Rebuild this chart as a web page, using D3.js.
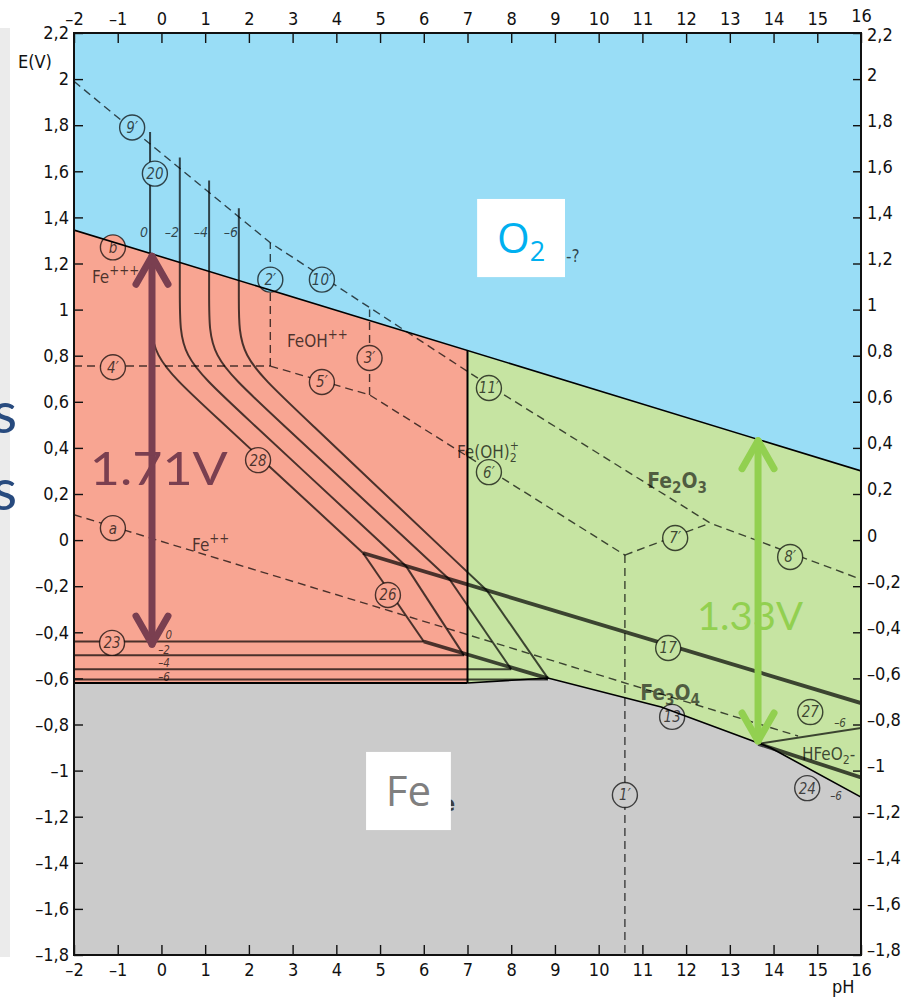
<!DOCTYPE html>
<html><head><meta charset="utf-8">
<script src="https://cdn.jsdelivr.net/npm/d3@7"></script>
<style>
body{margin:0;background:#fff}
svg{display:block}
.ax text{font-family:"DejaVu Sans Condensed","Liberation Sans Narrow","DejaVu Sans",sans-serif;font-stretch:condensed;font-size:18px;fill:#111}
.ax line{stroke:#111;stroke-width:1.4}
.scan{font-family:"DejaVu Sans Condensed","Liberation Sans Narrow","DejaVu Sans",sans-serif;font-stretch:condensed}
</style></head>
<body><svg id="c" width="903" height="997"></svg>
<script>
// ---------------- data ----------------
const phTicks = [-2,-1,0,1,2,3,4,5,6,7,8,9,10,11,12,13,14,15,16];
const eTicks = [-1.8,-1.6,-1.4,-1.2,-1,-0.8,-0.6,-0.4,-0.2,0,0.2,0.4,0.6,0.8,1,1.2,1.4,1.6,1.8,2,2.2];
const eTickLabels = ["–1,8","–1,6","–1,4","–1,2","–1","–0,8","–0,6","–0,4","–0,2","0","0,2","0,4","0,6","0,8","1","1,2","1,4","1,6","1,8","2","2,2"];

// coloured domains (pH, E)
const oxygenLine = [[-2,1.345],[16,0.30]];
const ionsRegion = [[-2,1.345],[7,0.82],[7,-0.62],[-2,-0.62]];
const oxideRegion = [[7,0.82],[16,0.30],[16,-1.115],[13.94,-0.902],[13.65,-0.88],[11.43,-0.724],[8.84,-0.598],[7,-0.62]];
const ironRegion = [[-2,-0.62],[7,-0.62],[8.84,-0.598],[11.43,-0.724],[13.65,-0.88],[13.94,-0.902],[16,-1.115],[16,-1.8],[-2,-1.8]];
const ironBoundary = [[7,-0.62],[8.84,-0.598],[11.43,-0.724],[13.65,-0.88],[13.94,-0.902],[16,-1.115]];

// scanned diagram: curved lines 20 -> 28 (log C = 0,-2,-4,-6)
const curves2028 = [
  [[-0.26,1.77],[-0.26,1.02],[-0.26,0.80],[0.90,0.595],[4.61,-0.056]],
  [[0.42,1.66],[0.42,1.02],[0.42,0.80],[1.58,0.594],[5.59,-0.112]],
  [[1.09,1.56],[1.09,1.02],[1.09,0.80],[2.25,0.594],[6.60,-0.173]],
  [[1.77,1.44],[1.77,1.02],[1.77,0.80],[2.93,0.592],[7.45,-0.22]]
];
const lines26 = [
  [[4.61,-0.056],[6.0,-0.44]],
  [[5.59,-0.112],[6.92,-0.50]],
  [[6.60,-0.173],[8.0,-0.56]],
  [[7.45,-0.22],[8.84,-0.60]]
];
const lines23 = [
  [[-2,-0.44],[6.0,-0.44]],
  [[-2,-0.50],[6.92,-0.50]],
  [[-2,-0.56],[8.0,-0.56]],
  [[-2,-0.605],[8.84,-0.605]]
];
const line27 = [[13.65,-0.884],[16,-0.815]];
const thickLines = [
  [[4.61,-0.056],[16,-0.707]],            // 17
  [[6.0,-0.44],[8.84,-0.60]],              // 13
  [[13.65,-0.884],[16,-1.03]]              // 24
];
const dashedLines = [
  [[-2,1.99],[2.49,1.29],[7.5,0.67],[12.55,0.074],[16,-0.17]],
  [[-2,0.755],[2.49,0.755]],
  [[2.49,0.755],[2.49,1.29]],
  [[2.49,0.755],[4.76,0.63],[10.6,-0.065]],
  [[4.76,0.63],[4.76,1.0]],
  [[10.6,-0.065],[12.55,0.074]],
  [[10.6,-0.065],[10.6,-1.8]],
  [[-2,0.11],[7,-0.41],[14.56,-0.85]]
];
const circleLabels = [
  ["9′",-0.67,1.79],["20",-0.15,1.59],["b",-1.11,1.27],["2′",2.49,1.13],["10′",3.67,1.13],
  ["4′",-1.11,0.75],["5′",3.67,0.686],["3′",4.76,0.79],["28",2.21,0.347],["a",-1.11,0.052],
  ["26",5.18,-0.238],["23",-1.13,-0.446],["11′",7.49,0.66],["6′",7.49,0.295],["7′",11.75,0.009],
  ["8′",14.38,-0.073],["17",11.59,-0.468],["13",11.68,-0.767],["27",14.84,-0.746],
  ["24",14.77,-1.076],["1′",10.6,-1.106]
];
const speciesLabels = [
  {parts:[["Fe",""],["+++","sup"]], pH:-1.59, E:1.115, bold:false},
  {parts:[["FeOH",""],["++","sup"]], pH:2.87, E:0.838, bold:false},
  {parts:[["Fe(OH)",""],["2","sub"],["+","sup2"]], pH:6.76, E:0.356, bold:false},
  {parts:[["Fe",""],["++","sup"]], pH:0.70, E:-0.047, bold:false},
  {parts:[["Fe",""],["2","sub"],["O",""],["3","sub"]], pH:11.11, E:0.226, bold:true},
  {parts:[["Fe",""],["3","sub"],["O",""],["4","sub"]], pH:10.95, E:-0.694, bold:true},
  {parts:[["HFeO",""],["2","sub"],["-",""]], pH:14.65, E:-0.954, bold:false},
  {parts:[["-?",""]], pH:9.25, E:1.207, bold:false}
];
const concLabels20 = [["0",-0.40,1.315],["–2",0.24,1.315],["–4",0.90,1.315],["–6",1.59,1.315]];
const concLabels23 = [["0",0.17,-0.431],["–2",0.06,-0.494],["–4",0.06,-0.552],["–6",0.06,-0.612],["–6",15.52,-0.811],["–6",15.43,-1.128]];

// slide overlays
const arrows = [
  {pH:-0.216, top:1.24, bottom:-0.46, color:"#7a3f50"},
  {pH:13.645, top:0.44, bottom:-0.88, color:"#92d050"}
];
const arrowTexts = [
  {text:"1.71V", pH:-0.06, E:0.24, color:"#7a3f50", size:46, len:138},
  {text:"1.33V", pH:13.46, E:-0.39, color:"#92d050", size:39, len:106}
];
const boxes = [
  {pH0:7.22, pH1:9.23, E0:1.48, E1:1.141, main:"O", sub:"2", color:"#00b0f0"},
  {pH0:4.68, pH1:6.62, E0:-0.919, E1:-1.258, main:"Fe", sub:"", color:"#7f7f7f"}
];

// ---------------- drawing ----------------
const svg = d3.select("#c");
const x = d3.scaleLinear().domain([-2,16]).range([74,861]);
const y = d3.scaleLinear().domain([-1.8,2.2]).range([955,33]);
const line = d3.line().x(d=>x(d[0])).y(d=>y(d[1]));
const poly = d3.line().x(d=>x(d[0])).y(d=>y(d[1])).curve(d3.curveLinearClosed);

const COL = {blue:"#99ddf6", red:"#f8a592", green:"#c6e4a2", gray:"#cbcbcb"};

// slide background remnants
svg.append("rect").attr("x",0).attr("y",28).attr("width",10).attr("height",929).attr("fill","#ebebeb");
svg.selectAll("text.s").data([433,510]).join("text").attr("class","s")
  .attr("x",-8).attr("y",d=>d).attr("font-family","Lato, 'Open Sans', sans-serif")
  .attr("font-size",58).attr("fill","#274a7e").text("s");

svg.append("defs").append("clipPath").attr("id","clip").append("rect")
  .attr("x",x(-2)).attr("y",y(2.2)).attr("width",x(16)-x(-2)).attr("height",y(-1.8)-y(2.2));

const plot = svg.append("g").attr("clip-path","url(#clip)");
plot.append("rect").attr("x",x(-2)).attr("y",y(2.2)).attr("width",x(16)-x(-2)).attr("height",y(-1.8)-y(2.2)).attr("fill",COL.blue);
plot.append("path").attr("d",poly(ionsRegion)).attr("fill",COL.red);
plot.append("path").attr("d",poly(oxideRegion)).attr("fill",COL.green);
plot.append("path").attr("d",poly(ironRegion)).attr("fill",COL.gray);

function regionColor(p){
  if (d3.polygonContains(oxideRegion,p)) return COL.green;
  if (d3.polygonContains(ionsRegion,p)) return COL.red;
  if (d3.polygonContains(ironRegion,p)) return COL.gray;
  return COL.blue;
}

// scanned line work (dark, semi-transparent so it takes the tint)
const OP = 0.7;
const scan = plot.append("g").attr("fill","none").attr("stroke","#000").attr("stroke-opacity",OP);
scan.selectAll("path.dash").data(dashedLines).join("path").attr("class","dash")
  .attr("d",line).attr("stroke-width",1.4).attr("stroke-dasharray","8,5");
scan.selectAll("path.c20").data(curves2028).join("path").attr("class","c20")
  .attr("d",d3.line().x(d=>x(d[0])).y(d=>y(d[1])).curve(d3.curveBasis)).attr("stroke-width",2);
scan.selectAll("path.l26").data(lines26).join("path").attr("class","l26").attr("d",line).attr("stroke-width",2);
scan.selectAll("path.l23").data(lines23).join("path").attr("class","l23").attr("d",line).attr("stroke-width",2);
scan.append("path").attr("d",line(line27)).attr("stroke-width",2);
scan.selectAll("path.thk").data(thickLines).join("path").attr("class","thk").attr("d",line).attr("stroke-width",3.8);

// circled numbers
const cg = plot.append("g");
const cl = cg.selectAll("g").data(circleLabels).join("g").attr("transform",d=>`translate(${x(d[1])},${y(d[2])})`);
cl.append("circle").attr("r",12.5).attr("fill",d=>regionColor([d[1],d[2]]))
  .attr("stroke","#000").attr("stroke-opacity",OP).attr("stroke-width",1.4);
cl.append("text").attr("class","scan").attr("text-anchor","middle").attr("dy","0.36em")
  .attr("font-size",15).attr("font-style","italic").attr("fill","#000").attr("fill-opacity",OP)
  .text(d=>d[0]);

// species labels
speciesLabels.forEach(s=>{
  const size = s.bold?21:17;
  const t = plot.append("text").attr("class","scan").attr("x",x(s.pH)).attr("y",y(s.E))
    .attr("font-size",size).attr("font-weight",s.bold?"bold":"normal")
    .attr("fill","#000").attr("fill-opacity",s.bold?0.6:OP);
  let shift = 0;
  s.parts.forEach(p=>{
    let target = 0, fs = size;
    if (p[1]==="sup") {target=-0.45*size; fs=size*0.78;}
    if (p[1]==="sub") {target=0.25*size; fs=size*0.72;}
    if (p[1]==="sup2") {target=-0.5*size; fs=size*0.72;}
    const ts = t.append("tspan").attr("font-size",fs).attr("dy",target-shift).text(p[0]);
    if (p[1]==="sup2") ts.attr("dx",-0.42*size);
    shift = target;
  });
});
plot.selectAll("text.c20").data(concLabels20).join("text").attr("class","scan c20")
  .attr("x",d=>x(d[1])).attr("y",d=>y(d[2])).attr("text-anchor","middle")
  .attr("font-size",14).attr("font-style","italic").attr("fill","#000").attr("fill-opacity",OP).text(d=>d[0]);
plot.selectAll("text.c23").data(concLabels23).join("text").attr("class","scan c23")
  .attr("x",d=>x(d[1])).attr("y",d=>y(d[2])).attr("text-anchor","middle")
  .attr("font-size",11.5).attr("font-style","italic").attr("fill","#000").attr("fill-opacity",OP).text(d=>d[0]);

// overlay boundaries
const ov = plot.append("g").attr("fill","none").attr("stroke","#000");
ov.append("path").attr("d",line(oxygenLine)).attr("stroke-width",1.6);
ov.append("path").attr("d",line([[7,0.82],[7,-0.62]])).attr("stroke-width",2);
ov.append("path").attr("d",line([[-2,-0.62],[7,-0.62]])).attr("stroke-width",2);
ov.append("path").attr("d",line(ironBoundary)).attr("stroke-width",1.6);

// frame
svg.append("rect").attr("x",x(-2)).attr("y",y(2.2)).attr("width",x(16)-x(-2)).attr("height",y(-1.8)-y(2.2))
  .attr("fill","none").attr("stroke","#111").attr("stroke-width",2);

// axes
function styleAxis(g){ g.select(".domain").remove(); g.attr("class","ax"); g.selectAll("text").attr("font-family",null).attr("font-size",null); }
const ta = svg.append("g").attr("transform",`translate(0,${y(2.2)})`)
  .call(d3.axisTop(x).tickValues(phTicks).tickSize(-10).tickPadding(8).tickFormat(d=>d<0?"–"+(-d):d)).call(styleAxis);
ta.selectAll("text").filter(d=>d===16).attr("dy","-0.15em");
svg.append("g").attr("transform",`translate(0,${y(-1.8)})`)
  .call(d3.axisBottom(x).tickValues(phTicks).tickSize(-10).tickPadding(8).tickFormat(d=>d<0?"–"+(-d):d)).call(styleAxis);
svg.append("g").attr("transform",`translate(${x(-2)},0)`)
  .call(d3.axisLeft(y).tickValues(eTicks).tickSize(-9).tickPadding(5).tickFormat((d,i)=>eTickLabels[i])).call(styleAxis);
const ra = svg.append("g").attr("transform",`translate(${x(16)},0)`)
  .call(d3.axisRight(y).tickValues(eTicks).tickSize(-8).tickPadding(6).tickFormat((d,i)=>eTickLabels[i])).call(styleAxis);
ra.selectAll("text").attr("dy",d=>d===2.2?"0.4em":"0.05em");
svg.append("text").attr("class","scan").attr("x",18).attr("y",68).attr("font-size",18).attr("fill","#111").text("E(V)");
svg.append("text").attr("class","scan").attr("x",832).attr("y",993).attr("font-size",18).attr("fill","#111").text("pH");

// "e" fragment of the original label partly hidden by the box
plot.append("text").attr("class","scan").attr("x",x(6.72)).attr("y",y(-1.177)).attr("text-anchor","end")
  .attr("font-size",22).attr("font-weight","bold").attr("fill","#000").attr("fill-opacity",0.7).text("e");

// white label boxes
boxes.forEach(b=>{
  svg.append("rect").attr("x",x(b.pH0)).attr("y",y(b.E0)).attr("width",x(b.pH1)-x(b.pH0)).attr("height",y(b.E1)-y(b.E0)).attr("fill","#fff");
  const cx = (x(b.pH0)+x(b.pH1))/2, cy=(y(b.E0)+y(b.E1))/2;
  const t = svg.append("text").attr("x",cx).attr("y",cy+15).attr("text-anchor","middle")
    .attr("font-family","'Open Sans', Lato, sans-serif").attr("font-size",42).attr("fill",b.color);
  t.append("tspan").text(b.main);
  if (b.sub) t.append("tspan").attr("font-size",27).attr("dy",8).text(b.sub);
});

// arrows
arrows.forEach(a=>{
  const g = svg.append("g").attr("stroke",a.color).attr("stroke-width",7).attr("fill","none")
    .attr("stroke-linecap","round").attr("stroke-linejoin","round");
  const ax = x(a.pH), yt = y(a.top), yb = y(a.bottom);
  g.append("line").attr("x1",ax).attr("x2",ax).attr("y1",yt+2).attr("y2",yb-2);
  g.append("polyline").attr("points",`${ax-16},${yt+30} ${ax},${yt+2} ${ax+16},${yt+30}`);
  g.append("polyline").attr("points",`${ax-16},${yb-30} ${ax},${yb-2} ${ax+16},${yb-30}`);
});
arrowTexts.forEach(a=>{
  svg.append("text").attr("x",x(a.pH)).attr("y",y(a.E)).attr("text-anchor","middle")
    .attr("font-family","Lato, 'Open Sans', sans-serif").attr("font-size",a.size).attr("fill",a.color)
    .attr("textLength",a.len).attr("lengthAdjust","spacingAndGlyphs").text(a.text);
});
</script></body></html>
